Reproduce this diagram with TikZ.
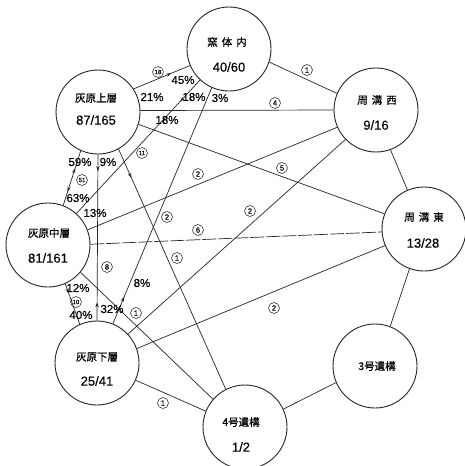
\documentclass[tikz,border=0pt]{standalone}
\usepackage{fontspec}
\setmainfont{Liberation Sans}
\newfontfamily\cjk[FakeBold=0.6]{Noto Sans CJK JP}
\newfontfamily\numfont[FakeBold=0.3]{Liberation Sans}
\usetikzlibrary{arrows.meta,decorations.markings}
\tikzset{
  mytip/.tip={Stealth[length=5pt,width=3.4pt]},
  site/.style={circle,draw=black!85,line width=0.9pt,minimum size=84pt,inner sep=0pt},
  jp/.style={inner sep=0pt,font=\cjk\fontsize{10.5}{12}\selectfont},
  fracl/.style={inner sep=0pt,font=\numfont\fontsize{13}{14}\selectfont},
  pct/.style={inner sep=0pt,font=\numfont\fontsize{11.5}{12}\selectfont},
  cnum/.style={circle,draw=black!85,line width=0.55pt,inner sep=0pt,minimum size=11pt,font=\numfont\fontsize{7.5}{8}\selectfont},
  cnumb/.style={cnum,font=\numfont\fontsize{6}{6}\selectfont},
  link/.style={draw=black!85,line width=0.7pt},
  arr/.style={postaction={decorate,decoration={markings,mark=at position #1 with {\arrow{mytip}}}}},
  rarr/.style={postaction={decorate,decoration={markings,mark=at position #1 with {\arrowreversed{mytip}}}}},
}
\begin{document}
\begin{tikzpicture}[x=1pt,y=-1pt]
\fill[white] (0,0) rectangle (464,466);
\useasboundingbox (0,0) rectangle (464,466);

% sites
\node[site] (K) at (229,49) {};
\node[site] (U) at (98,112) {};
\node[site] (M) at (48,245) {};
\node[site] (L) at (97,363) {};
\node[site] (W) at (376,110) {};
\node[site] (E) at (424,229) {};
\node[site] (S3) at (375,366) {};
\node[site] (S4) at (245,427) {};

% site texts
\node[jp] (Kn) at (227,42) {窯\hspace{4pt}体\hspace{4pt}内};
\node[fracl] (Kf) at (229,67) {40/60};
\node[jp] (Un) at (96,98) {灰原上層};
\node[fracl] (Uf) at (96,120) {87/165};
\node[jp] (Mn) at (49,233) {灰原中層};
\node[fracl] (Mf) at (48,258) {81/161};
\node[jp] (Ln) at (97,357) {灰原下層};
\node[fracl] (Lf) at (97,381) {25/41};
\node[jp] (Wn) at (377,100) {周\hspace{4pt}溝\hspace{4pt}西};
\node[fracl] (Wf) at (376,125) {9/16};
\node[jp] (En) at (424,217) {周\hspace{4pt}溝\hspace{4pt}東};
\node[fracl] (Ef) at (423,243) {13/28};
\node[jp] (S3n) at (377,366) {3号遺構};
\node[jp] (S4n) at (241,422) {4号遺構};
\node[fracl] (S4f) at (241,447) {1/2};

% connectors
\draw[link, arr=0.67] (U.33) -- (K.203);
\draw[link, arr=0.16] (K.227) -- (M.48);
\draw[link, rarr=0.886] (K.246) -- (L.68);
\draw[link] (K.342) -- (W.157);
\draw[link] (U.2) -- (W.180);
\draw[link] (U.343) -- (E.159);
\draw[link, arr=0.12] (U.299) -- (S4.117);
\draw[link, arr=0.1, rarr=0.89] (U.270) -- (L.90);
\draw[link, rarr=0.32, arr=0.75] (U.246) -- (M.69);
\draw[link, arr=0.24] (M.294) -- (L.114);
\draw[link] (M.21) -- (W.204);
\draw[link, dash pattern=on 14pt off 2pt] (M.1) -- (E.184);
\draw[link] (M.320) -- (S4.139);
\draw[link] (L.43) -- (W.224);
\draw[link] (L.20) -- (E.203);
\draw[link] (L.336) -- (S4.158);
\draw[link] (W.290) -- (E.113);
\draw[link] (E.250) -- (S3.69);
\draw[link] (S3.203) -- (S4.25);

% percentages
\node[pct] (p45) at (183,80) {45\%};
\node[pct] (p21) at (152,97) {21\%};
\node[pct] (p18a) at (194,97) {18\%};
\node[pct] (p3) at (220,98) {3\%};
\node[pct] (p18b) at (167,120) {18\%};
\node[pct] (p59) at (80,162) {59\%};
\node[pct] (p9) at (108,162) {9\%};
\node[pct] (p63) at (78,198) {63\%};
\node[pct] (p13) at (95,213) {13\%};
\node[pct] (p12) at (78,288) {12\%};
\node[pct] (p40) at (81,315) {40\%};
\node[pct] (p32) at (112,309) {32\%};
\node[pct] (p8) at (142,283) {8\%};

% circled counts
\node[cnumb] (c18) at (158,72) {18};
\node[cnum] (c1a) at (307,70) {1};
\node[cnum] (c4) at (275,103) {4};
\node[cnumb] (c11) at (142,153) {11};
\node[cnum] (c2a) at (198,174) {2};
\node[cnum] (c5) at (282,168) {5};
\node[cnum] (c2b) at (167,217) {2};
\node[cnum] (c2c) at (250,211) {2};
\node[cnum] (c6) at (198,230) {6};
\node[cnum] (c1b) at (177,258) {1};
\node[cnum] (c8) at (107,267) {8};
\node[cnum] (c1c) at (136,313) {1};
\node[cnum] (c2d) at (274,308) {2};
\node[cnum] (c1d) at (163,403) {1};
\node[cnumb] (c51) at (82,180) {51};
\node[cnumb] (c10) at (76,302) {10};
\end{tikzpicture}
\end{document}
